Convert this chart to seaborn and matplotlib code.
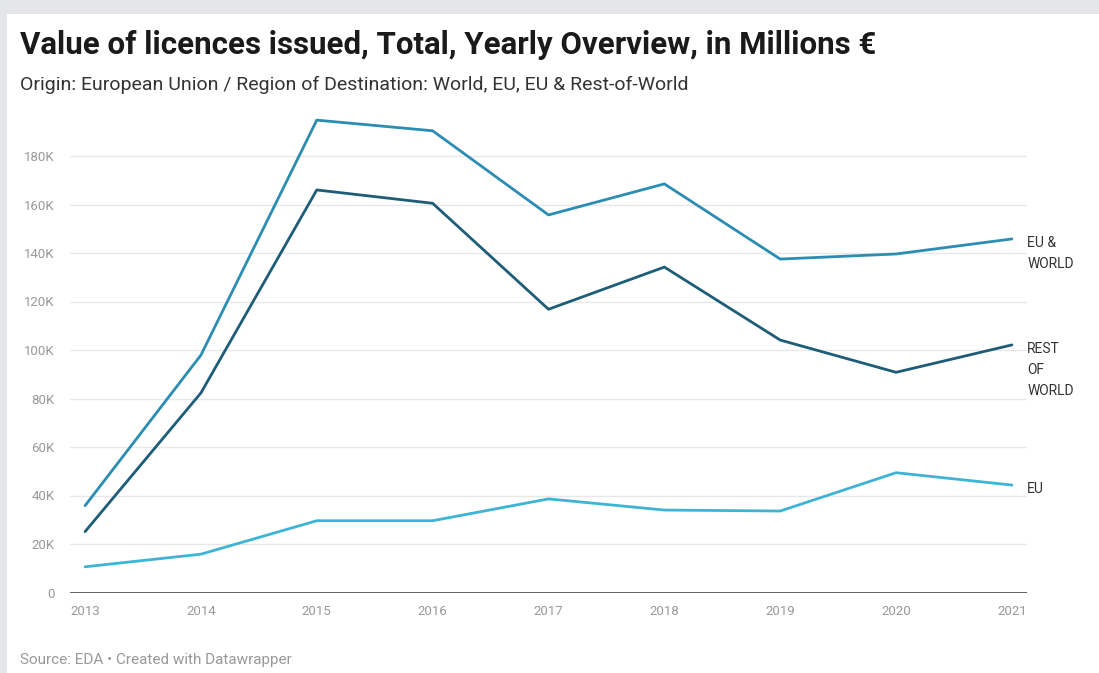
import matplotlib
matplotlib.use("Agg")
import matplotlib.pyplot as plt
from matplotlib.patches import Rectangle
import seaborn as sns
import pandas as pd

# Yearly values of licences issued (millions €)
years = [2013, 2014, 2015, 2016, 2017, 2018, 2019, 2020, 2021]
eu_and_world = [35800, 97900, 194800, 190400, 155700, 168500, 137500, 139600, 145800]
rest_of_world = [25100, 82300, 166000, 160500, 116800, 134200, 104100, 90800, 102100]
eu = [10600, 15800, 29600, 29600, 38600, 34000, 33600, 49400, 44300]

series_names = ["EU & WORLD", "REST OF WORLD", "EU"]
end_labels = ["EU &\nWORLD", "REST\nOF\nWORLD", "EU"]
y_ticks = [0, 20000, 40000, 60000, 80000, 100000, 120000, 140000, 160000, 180000]

title = "Value of licences issued, Total, Yearly Overview, in Millions €"
subtitle = "Origin: European Union / Region of Destination: World, EU, EU & Rest-of-World"
source = "Source: EDA • Created with Datawrapper"

palette = {"EU & WORLD": "#2b8db2", "REST OF WORLD": "#1e5d78", "EU": "#3db4d6"}

df = pd.DataFrame({
    "year": years * 3,
    "value": eu_and_world + rest_of_world + eu,
    "series": [s for s in series_names for _ in years],
})

sns.set_theme(style="white")
plt.rcParams["font.family"] = ["Roboto", "DejaVu Sans"]

fig = plt.figure(figsize=(10.99, 6.73), dpi=100)
fig.patch.set_facecolor("white")

# light grey frame along the top and left edges
W, H = 1099, 673
fig.patches.append(Rectangle((0, 1 - 14 / H), 1, 14 / H, transform=fig.transFigure,
                             facecolor="#e4e6e9", edgecolor="none", zorder=0))
fig.patches.append(Rectangle((0, 0), 7 / W, 1, transform=fig.transFigure,
                             facecolor="#e4e6e9", edgecolor="none", zorder=0))

ax = fig.add_axes([70 / W, 1 - 592.5 / H, (1027 - 70) / W, (592.5 - 107.5) / H])

sns.lineplot(data=df, x="year", y="value", hue="series", palette=palette,
             hue_order=series_names, linewidth=2.0, legend=False, ax=ax)

ax.set_xlim(2013 - 0.13, 2021 + 0.13)
ax.set_ylim(0, 200000)
ax.set_yticks(y_ticks)
ax.set_yticklabels(["0" if v == 0 else f"{v // 1000}K" for v in y_ticks])
ax.set_xticks(years)
ax.set_xticklabels([str(y) for y in years])
ax.set_xlabel("")
ax.set_ylabel("")

for v in y_ticks[1:]:
    ax.axhline(v, color="#e8e8e8", linewidth=1.0, zorder=0)
ax.axhline(0, color="#333333", linewidth=1.8, zorder=3)

for s in ["top", "right", "left", "bottom"]:
    ax.spines[s].set_visible(False)
ax.tick_params(axis="both", length=0, labelsize=9.5, colors="#999999")
ax.tick_params(axis="y", pad=11)
ax.tick_params(axis="x", pad=9)

# line labels at the right end of each series
last_vals = [eu_and_world[-1], rest_of_world[-1], eu[-1]]
for lab, v in zip(end_labels, last_vals):
    ax.annotate(lab, xy=(years[-1], v), xytext=(11, 2), textcoords="offset points",
                ha="left", va="top", fontsize=10, color="#333333",
                linespacing=1.65, annotation_clip=False,
                xycoords="data")

fig.text(20 / W, 1 - 45 / H, title, fontsize=22.5, fontweight="bold",
         color="#1a1a1a", ha="left", va="center")
fig.text(20 / W, 1 - 85 / H, subtitle, fontsize=14, color="#333333",
         ha="left", va="center")
fig.text(20 / W, 1 - 660 / H, source, fontsize=11, color="#999999",
         ha="left", va="center")

fig.savefig("out.png", dpi=100, facecolor=fig.get_facecolor())
